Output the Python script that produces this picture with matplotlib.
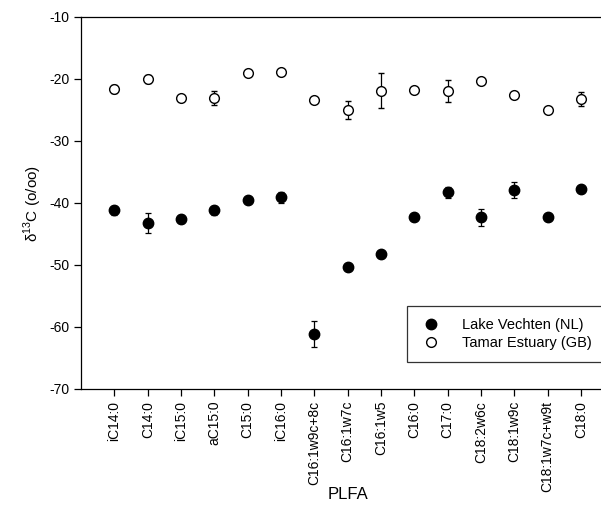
import matplotlib
matplotlib.use('Agg')
import matplotlib.pyplot as plt

plt.rcParams['font.family'] = ['Liberation Sans', 'DejaVu Sans']
plt.rcParams['axes.unicode_minus'] = False
plt.rcParams['mathtext.fontset'] = 'custom'
plt.rcParams['mathtext.rm'] = 'Liberation Sans'

# PLFA names
plfa = ['iC14:0', 'C14:0', 'iC15:0', 'aC15:0', 'C15:0', 'iC16:0',
        'C16:1w9c+8c', 'C16:1w7c', 'C16:1w5', 'C16:0', 'C17:0',
        'C18:2w6c', 'C18:1w9c', 'C18:1w7c+w9t', 'C18:0']

# Lake Vechten (NL)
vechten = [-41.2, -43.2, -42.6, -41.2, -39.5, -39.1,
           -61.2, -50.4, -48.3, -42.3, -38.3,
           -42.3, -37.9, -42.3, -37.7]
vechten_err = [0.7, 1.6, 0.7, 0.7, 0.0, 0.9,
               2.1, 0.0, 0.6, 0.0, 0.9,
               1.4, 1.35, 0.0, 0.0]

# Tamar Estuary (GB)
tamar = [-21.6, -20.0, -23.0, -23.1, -19.0, -18.9,
         -23.4, -25.0, -21.9, -21.8, -21.9,
         -20.4, -22.6, -25.05, -23.2]
tamar_err = [0.7, 0.7, 0.0, 1.1, 0.0, 0.0,
             0.0, 1.4, 2.8, 0.0, 1.8,
             0.0, 0.0, 0.0, 1.1]

fig = plt.figure(figsize=(6.01, 5.08), dpi=100)
ax = fig.add_axes([0.135, 0.2343, 0.887, 0.7323])

x = list(range(len(plfa)))

ax.errorbar(x, vechten, yerr=vechten_err, fmt='o', color='black',
            markersize=7.5, capsize=2.5, elinewidth=0.9, capthick=0.9,
            label='Lake Vechten (NL)')
ax.errorbar(x, tamar, yerr=tamar_err, fmt='o', color='black',
            markerfacecolor='white', markeredgewidth=1.0,
            markersize=7, capsize=2.5, elinewidth=0.9, capthick=0.9,
            label='Tamar Estuary (GB)')

ax.set_xlim(-1, 15)
ax.set_ylim(-70, -10)
ax.set_yticks(range(-70, -9, 10))
ax.set_xticks(x)
ax.set_xticklabels(plfa, rotation=90, fontsize=10)
ax.tick_params(axis='y', labelsize=10)
ax.tick_params(direction='out', length=5, width=0.9)

ax.spines['right'].set_visible(False)
for s in ['left', 'bottom', 'top']:
    ax.spines[s].set_linewidth(0.9)

ax.set_ylabel('δ$^{13}$C (o/oo)', fontsize=11)
ax.set_xlabel('PLFA', fontsize=12, va='center')
ax.xaxis.set_label_coords(0.5, -0.285)

# legend runs off the right edge like in the original scan
handles, labels = ax.get_legend_handles_labels()
handles = [h[0] for h in handles]
leg = ax.legend(handles, labels, loc='upper left', mode='expand',
                bbox_to_anchor=(0.677, 0.2, 0.36, 0.1976),
                bbox_transform=fig.transFigure,
                frameon=True, fancybox=False, edgecolor='black',
                fontsize=10.5, handletextpad=1.3, borderpad=0.8,
                borderaxespad=0, labelspacing=0.3, handlelength=1.7)
leg.get_frame().set_linewidth(0.9)

fig.savefig('out.png', dpi=100)
